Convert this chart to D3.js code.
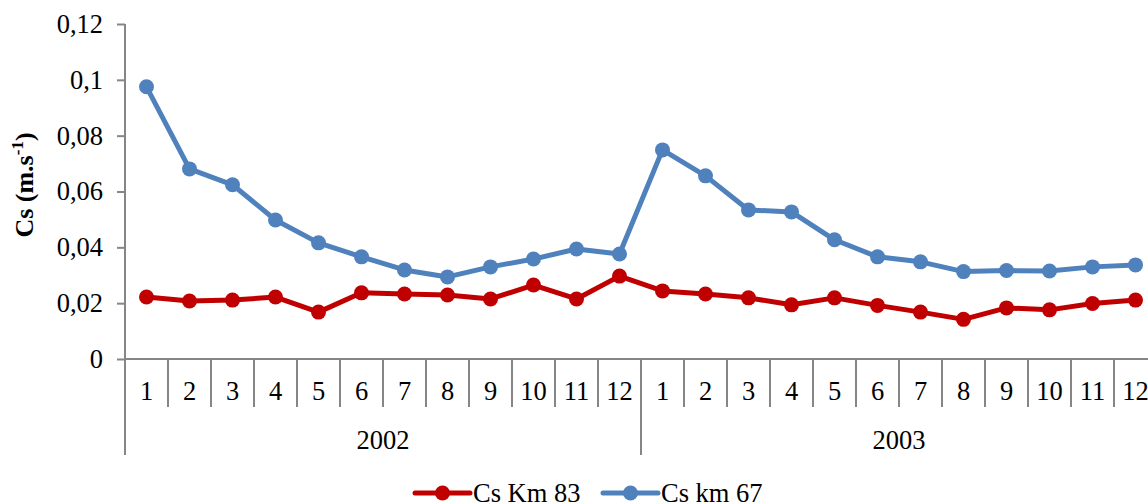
<!DOCTYPE html>
<html>
<head>
<meta charset="utf-8">
<script src="https://cdn.jsdelivr.net/npm/d3@7"></script>
<style>
  html, body { margin: 0; padding: 0; background: #fff; }
  svg text { font-family: "Liberation Serif", "Times New Roman", serif; fill: #000; }
</style>
</head>
<body>
<svg id="chart" width="1148" height="504"></svg>
<script>
const months = ["1","2","3","4","5","6","7","8","9","10","11","12"];
const years = ["2002", "2003"];
const seriesNames = ["Cs Km 83", "Cs km 67"];
const km83 = [0.0222, 0.0208, 0.0211, 0.0222, 0.0168, 0.0237, 0.0233, 0.0229, 0.0215, 0.0265, 0.0215, 0.0297,
              0.0244, 0.0233, 0.0219, 0.0194, 0.0219, 0.0192, 0.0168, 0.0142, 0.0183, 0.0176, 0.0199, 0.0211];
const km67 = [0.0975, 0.0681, 0.0624, 0.0498, 0.0416, 0.0366, 0.0319, 0.0294, 0.0330, 0.0358, 0.0394, 0.0376,
              0.0749, 0.0656, 0.0534, 0.0527, 0.0427, 0.0366, 0.0348, 0.0313, 0.0317, 0.0315, 0.0330, 0.0337];
const yTicks = [0, 0.02, 0.04, 0.06, 0.08, 0.10, 0.12];
const colors = ["#C00000", "#4F81BD"];

const svg = d3.select("#chart");
const axisColor = "#868686";
const fontSize = 26.5;

const idx = d3.range(years.length * months.length);
const x = d3.scaleBand().domain(idx).range([125, 1157]).padding(0);
const y = d3.scaleLinear().domain([0, 0.12]).range([359, 24]);

const loc = d3.formatLocale({decimal: ",", thousands: ".", grouping: [3], currency: ["", ""]});
const fmt = loc.format("~g");

// Y axis
const yAxis = svg.append("g")
  .attr("transform", `translate(${x.range()[0]},0)`)
  .call(d3.axisLeft(y).tickValues(yTicks).tickFormat(fmt).tickSize(8).tickPadding(14));
yAxis.select(".domain").remove();
yAxis.selectAll(".tick line").attr("stroke", axisColor).attr("stroke-width", 2);
yAxis.selectAll(".tick text").attr("font-size", fontSize).attr("font-family", "Liberation Serif").attr("fill", "#000");

const y0 = y(0);
const monthTickBottom = y0 + 48;
const yearTickBottom = y0 + 96;
svg.append("line")
  .attr("x1", x.range()[0]).attr("x2", x.range()[0])
  .attr("y1", y.range()[1]).attr("y2", yearTickBottom)
  .attr("stroke", axisColor).attr("stroke-width", 2);

svg.append("line")
  .attr("x1", x.range()[0]).attr("x2", x.range()[1])
  .attr("y1", y0).attr("y2", y0)
  .attr("stroke", axisColor).attr("stroke-width", 2);

// month separators
const bounds = d3.range(idx.length + 1).map(i => x.range()[0] + i * x.step());
svg.append("g").selectAll("line").data(bounds).join("line")
  .attr("x1", d => d).attr("x2", d => d)
  .attr("y1", y0)
  .attr("y2", (d, i) => (i % months.length === 0) ? yearTickBottom : monthTickBottom)
  .attr("stroke", axisColor).attr("stroke-width", 2);

// month labels
svg.append("g").selectAll("text").data(idx).join("text")
  .attr("x", d => x(d) + x.bandwidth() / 2)
  .attr("y", y0 + 41)
  .attr("text-anchor", "middle")
  .attr("font-size", fontSize)
  .text(d => months[d % months.length]);

// year labels
svg.append("g").selectAll("text").data(years).join("text")
  .attr("x", (d, i) => (x(i * months.length) + x(i * months.length + months.length - 1) + x.bandwidth()) / 2)
  .attr("y", y0 + 90)
  .attr("text-anchor", "middle")
  .attr("font-size", fontSize)
  .text(d => d);

// Y axis title
const title = svg.append("text")
  .attr("transform", `translate(33, 185) rotate(-90)`)
  .attr("text-anchor", "middle")
  .attr("font-size", 26)
  .attr("font-weight", "bold");
title.append("tspan").text("Cs (m.s");
title.append("tspan").attr("font-size", 17).attr("dy", -10).text("-1");
title.append("tspan").attr("dy", 10).text(")");

// series
const allSeries = [km83, km67];
const line = d3.line().x((d, i) => x(i) + x.bandwidth() / 2).y(d => y(d));
allSeries.forEach((s, k) => {
  svg.append("path")
    .datum(s)
    .attr("fill", "none")
    .attr("stroke", colors[k])
    .attr("stroke-width", 5)
    .attr("stroke-linejoin", "round")
    .attr("d", line);
  svg.append("g").selectAll("circle").data(s).join("circle")
    .attr("cx", (d, i) => x(i) + x.bandwidth() / 2)
    .attr("cy", d => y(d))
    .attr("r", 7.5)
    .attr("fill", colors[k]);
});

// legend
const legendY = 493;
const legendX = [415, 603];
seriesNames.forEach((name, k) => {
  const g = svg.append("g").attr("transform", `translate(${legendX[k]},${legendY})`);
  g.append("line").attr("x1", 0).attr("x2", 55).attr("y1", 0).attr("y2", 0)
    .attr("stroke", colors[k]).attr("stroke-width", 5).attr("stroke-linecap", "round");
  g.append("circle").attr("cx", 27.5).attr("cy", 0).attr("r", 7.5).attr("fill", colors[k]);
  g.append("text").attr("x", 58).attr("y", 9).attr("font-size", fontSize).text(name);
});
</script>
</body>
</html>
